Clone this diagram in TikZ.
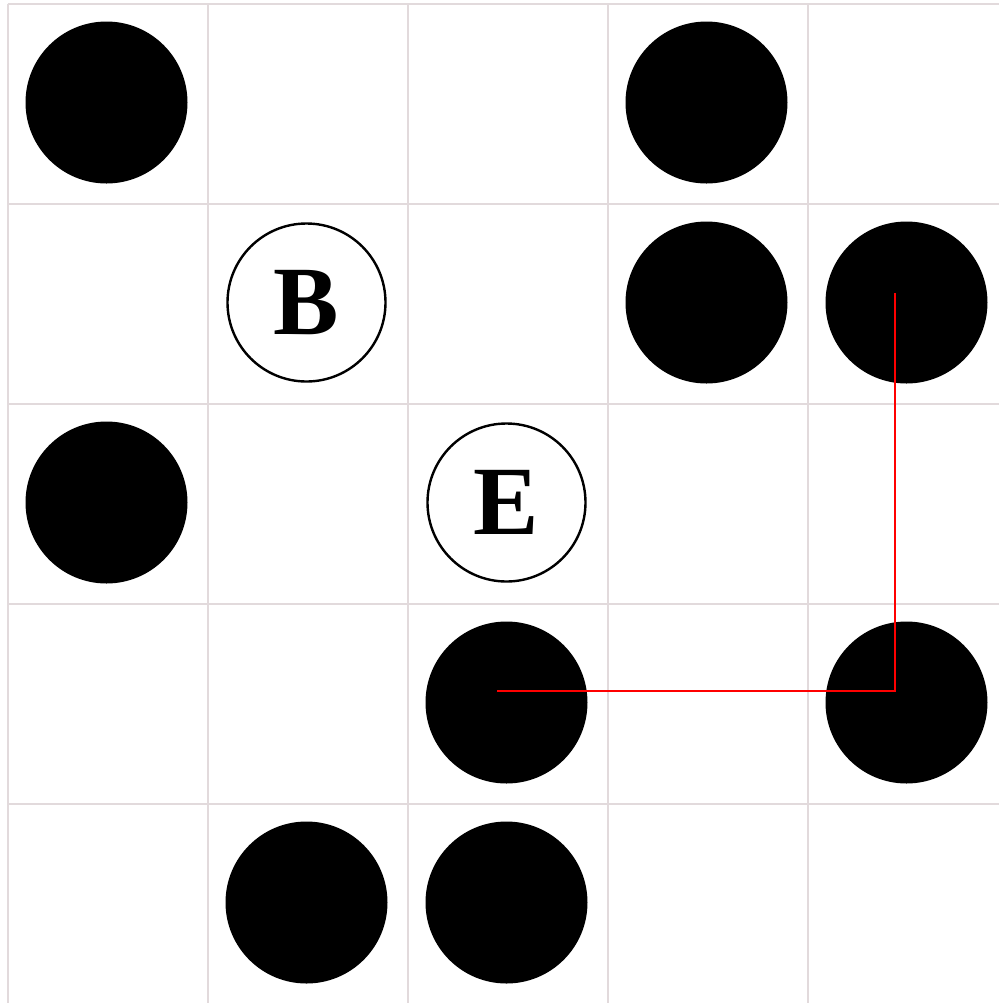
\documentclass[tikz,border=0pt]{standalone}
\usepackage{fontspec}
\setmainfont{Liberation Serif}
\definecolor{gridc}{HTML}{E2DADC}
\begin{document}
\begin{tikzpicture}[x=0.5pt,y=-0.5pt,
  gridline/.style={draw=gridc,line width=1pt},
  stone/.style={circle,fill=black,minimum size=81pt,inner sep=0pt},
  hollow/.style={circle,draw=black,line width=1.2pt,fill=white,minimum size=79pt,inner sep=0pt,font=\fontsize{49}{49}\selectfont\bfseries},
  route/.style={draw=red,line width=1.1pt}]
\useasboundingbox (0,0) rectangle (999,1003);
\fill[white] (0,0) rectangle (999,1003);
\foreach \k in {0,...,4} \draw[gridline] (7.5+200*\k,3.5) -- (7.5+200*\k,1003);
\foreach \k in {0,...,5} \draw[gridline] (7.5,3.5+200*\k) -- (1010,3.5+200*\k);
% stones
\node[stone] (s00) at (106.5,102.5) {};
\node[stone] (s03) at (706.5,102.5) {};
\node[stone] (s13) at (706.5,302.5) {};
\node[stone] (s14) at (906.5,302.5) {};
\node[stone] (s20) at (106.5,502.5) {};
\node[stone] (s32) at (506.5,702.5) {};
\node[stone] (s34) at (906.5,702.5) {};
\node[stone] (s41) at (306.5,902.5) {};
\node[stone] (s42) at (506.5,902.5) {};
\node[hollow] (b) at (306.5,302.5) {B};
\node[hollow] (e) at (506.5,502.5) {E};
\coordinate (r1) at (497,691);
\coordinate (r2) at (895,691);
\coordinate (r3) at (895,293);
\draw[route] (r1) -- (r2) -- (r3);
\end{tikzpicture}
\end{document}
